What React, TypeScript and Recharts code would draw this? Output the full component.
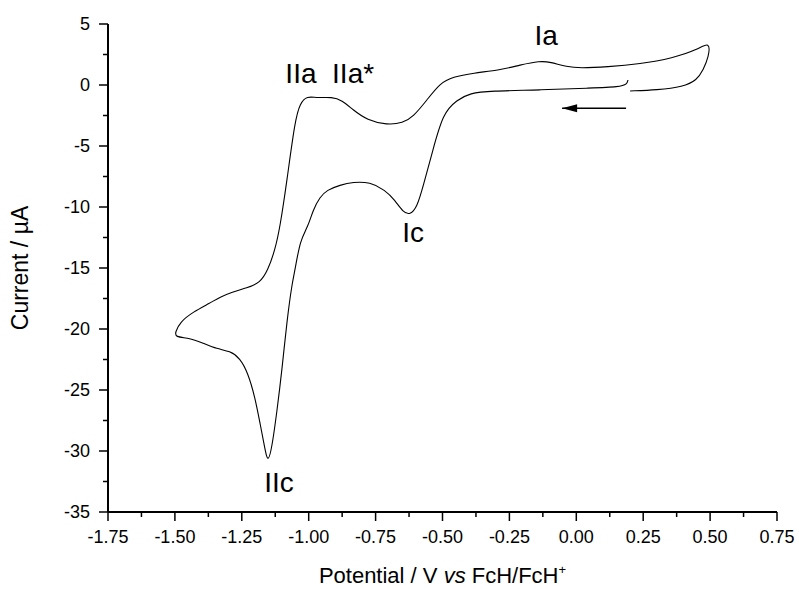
import React from "react";
import { LineChart, Line, XAxis, YAxis, ReferenceDot } from "recharts";

// cyclic voltammogram, sweep starts at +0.20 V going negative, turns at -1.50 and +0.50
const potential = [
  0.193, 0.19, 0.163, 0.051, -0.136, -0.322, -0.397, -0.446, -0.498, -0.536,
  -0.573, -0.595, -0.621, -0.648, -0.678, -0.715, -0.771, -0.834, -0.883, -0.932,
  -0.958, -0.984, -1.003, -1.032, -1.051, -1.062, -1.081, -1.1, -1.118, -1.137,
  -1.152, -1.163, -1.182, -1.201, -1.227, -1.257, -1.294, -1.343, -1.395, -1.444,
  -1.5,
  -1.498, -1.481, -1.432, -1.369, -1.331, -1.287, -1.231, -1.182, -1.152, -1.126,
  -1.107, -1.081, -1.051, -1.032, -1.006, -0.969, -0.913, -0.876, -0.834, -0.782,
  -0.707, -0.648, -0.61, -0.558, -0.509, -0.461, -0.386, -0.285, -0.21, -0.136,
  -0.098, -0.035, 0.014, 0.115, 0.238, 0.361, 0.451, 0.5,
  0.495, 0.474, 0.451, 0.399, 0.302, 0.201,
];
const current = [
  0.41, 0.08, -0.16, -0.25, -0.41, -0.49, -0.66, -1.23, -2.3, -5.33,
  -8.36, -10.0, -10.66, -10.41, -9.43, -8.61, -7.95, -7.95, -8.2, -8.61,
  -9.18, -10.25, -11.64, -12.7, -15.16, -16.23, -19.26, -23.36, -26.64, -29.67,
  -31.0, -29.92, -27.7, -25.57, -23.6, -22.38, -21.8, -21.64, -21.15, -20.74,
  -20.66,
  -20.25, -19.43, -18.6, -17.87, -17.38, -16.97, -16.64, -16.23, -15.16, -13.52,
  -11.64, -7.79, -2.87, -1.48, -0.9, -1.07, -0.98, -1.23, -2.05, -2.87,
  -3.28, -3.11, -2.62, -1.23, 0.16, 0.66, 0.98, 1.23, 1.64, 1.97,
  1.89, 1.48, 1.39, 1.48, 1.72, 2.21, 2.87, 3.6,
  2.3, 1.23, 0.41, -0.16, -0.41, -0.49,
];

// scan direction arrow
const arrowE = [0.186, -0.053];
const arrowI = [-1.9, -1.9];

const peakNames = ["Ia", "IIa", "IIa*", "Ic", "IIc"];
const peakE = [-0.113, -1.029, -0.834, -0.61, -1.111];
const peakI = [3.28, 0.16, 0.16, -12.87, -33.36];

const xMajor = [-1.75, -1.5, -1.25, -1.0, -0.75, -0.5, -0.25, 0, 0.25, 0.5, 0.75];
const xMinor = [-1.625, -1.375, -1.125, -0.875, -0.625, -0.375, -0.125, 0.125, 0.375, 0.625];
const yMajor = [-35, -30, -25, -20, -15, -10, -5, 0, 5];
const yMinor = [-32.5, -27.5, -22.5, -17.5, -12.5, -7.5, -2.5, 2.5];

const cv = potential.map((e, i) => ({ E: e, I: current[i] }));
const arrow = arrowE.map((e, i) => ({ E: e, I: arrowI[i] }));

const FONT = "Arial, 'Liberation Sans', Helvetica, sans-serif";

function XTick(props: any) {
  const { x, y, payload } = props;
  const major = xMajor.includes(payload.value);
  return (
    <g>
      <line x1={x} y1={y} x2={x} y2={y + (major ? 9 : 5)} stroke="#000" strokeWidth={1.5} />
      {major && (
        <text x={x} y={y + 31} textAnchor="middle" fontSize={18} fontFamily={FONT} fill="#000">
          {payload.value.toFixed(2)}
        </text>
      )}
    </g>
  );
}

function YTick(props: any) {
  const { x, y, payload } = props;
  const major = yMajor.includes(payload.value);
  return (
    <g>
      <line x1={x} y1={y} x2={x - (major ? 9 : 5)} y2={y} stroke="#000" strokeWidth={1.5} />
      {major && (
        <text x={x - 18} y={y + 6} textAnchor="end" fontSize={18} fontFamily={FONT} fill="#000">
          {payload.value}
        </text>
      )}
    </g>
  );
}

function XTitle(props: any) {
  const { viewBox } = props;
  const cx = viewBox.x + viewBox.width / 2;
  return (
    <text x={cx} y={viewBox.y + 71} textAnchor="middle" fontSize={22} fontFamily={FONT} fill="#000">
      {"Potential / V "}
      <tspan fontStyle="italic">vs</tspan>
      {" FcH/FcH"}
      <tspan dy={-9} fontSize={13}>+</tspan>
    </text>
  );
}

function YTitle(props: any) {
  const { viewBox } = props;
  const cy = viewBox.y + viewBox.height / 2;
  return (
    <text
      x={20}
      y={cy}
      transform={`rotate(-90, 20, ${cy})`}
      textAnchor="middle"
      dominantBaseline="central"
      fontSize={23}
      fontFamily={FONT}
      fill="#000"
    >
      Current / µA
    </text>
  );
}

function ArrowHead(props: any) {
  const { cx, cy, index } = props;
  if (index !== 1) return <g key={index} />;
  return <polygon key={index} points={`${cx},${cy} ${cx + 15},${cy - 4} ${cx + 15},${cy + 4}`} fill="#000" />;
}

export default function App() {
  return (
    <div style={{ position: "absolute", left: 0, top: 0, width: 799, height: 589, background: "#fff" }}>
      <LineChart width={799} height={589} margin={{ top: 24, right: 22, bottom: 0, left: 0 }}>
        <XAxis
          dataKey="E"
          type="number"
          domain={[-1.75, 0.75]}
          ticks={[...xMajor, ...xMinor].sort((a, b) => a - b)}
          interval={0}
          height={77}
          tickSize={0}
          tickMargin={0}
          tickLine={false}
          tick={<XTick />}
          axisLine={{ stroke: "#000", strokeWidth: 2 }}
          label={<XTitle />}
        />
        <YAxis
          type="number"
          domain={[-35, 5]}
          ticks={[...yMajor, ...yMinor].sort((a, b) => a - b)}
          interval={0}
          width={108}
          tickSize={0}
          tickMargin={0}
          tickLine={false}
          tick={<YTick />}
          axisLine={{ stroke: "#000", strokeWidth: 2 }}
          label={<YTitle />}
        />
        <Line
          data={cv}
          dataKey="I"
          type="basis"
          stroke="#000"
          strokeWidth={1.1}
          dot={false}
          isAnimationActive={false}
        />
        <Line
          data={arrow}
          dataKey="I"
          type="linear"
          stroke="#000"
          strokeWidth={1.5}
          dot={<ArrowHead />}
          isAnimationActive={false}
        />
        {peakNames.map((name, i) => (
          <ReferenceDot
            key={name}
            x={peakE[i]}
            y={peakI[i]}
            r={0}
            shape={(p: any) => (
              <text x={p.cx} y={p.cy} textAnchor="middle" fontSize={28} fontFamily={FONT} fill="#000">
                {name}
              </text>
            )}
          />
        ))}
      </LineChart>
    </div>
  );
}
